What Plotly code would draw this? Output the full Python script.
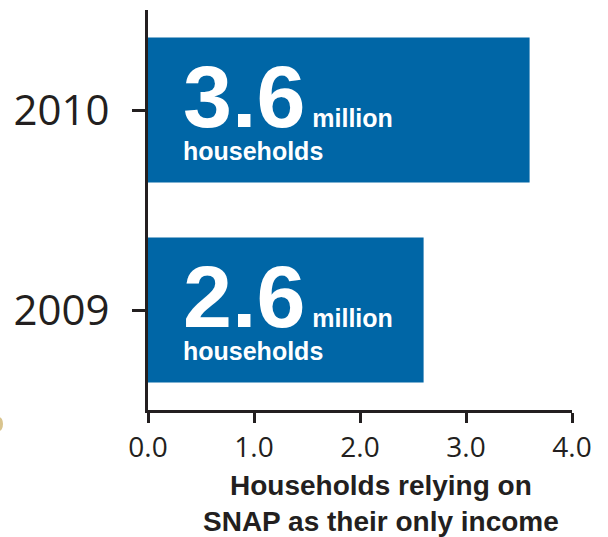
import plotly.graph_objects as go

# Households relying on SNAP as their only income (millions)
years = ["2009", "2010"]
households_millions = [2.6, 3.6]
x_ticks = [0, 1, 2, 3, 4]
x_tick_labels = ["0.0", "1.0", "2.0", "3.0", "4.0"]

BAR_BLUE = "#0066a6"
INK = "#231f20"

fig = go.Figure(
    go.Bar(
        y=years,
        x=households_millions,
        orientation="h",
        marker=dict(color=BAR_BLUE, line=dict(width=0)),
        width=0.725,
        hoverinfo="skip",
    )
)

# Value callouts inside each bar (category axis: position by index)
for idx, v in enumerate(households_millions):
    fig.add_annotation(
        x=0, y=idx, xref="x", yref="y",
        text=(f"<span style='font-size:88px'><b>{v:.1f}</b></span>"
              "<b> million</b><br><b>households</b>"),
        showarrow=False, align="left",
        xanchor="left", yanchor="middle",
        xshift=33, yshift=4,
        font=dict(family="Liberation Sans", size=25, color="white"),
    )

# Axis caption
fig.add_annotation(
    x=0.5, y=0, xref="paper", yref="paper",
    text="<b>Households relying on<br>SNAP as their only income</b>",
    showarrow=False, xanchor="center", yanchor="top",
    xshift=21, yshift=-58,
    font=dict(family="Liberation Sans", size=28, color=INK),
)

# Small decorative dot at the lower-left edge
fig.add_shape(
    type="circle", xref="paper", yref="paper",
    x0=-0.36, x1=-0.342, y0=-0.0525, y1=-0.0175,
    fillcolor="#d9c48e", line=dict(width=0), layer="above",
)

fig.update_layout(
    width=608, height=537,
    margin=dict(l=148, r=36, t=10, b=127),
    paper_bgcolor="white", plot_bgcolor="white",
    showlegend=False,
    xaxis=dict(
        range=[0, 4], tickvals=x_ticks, ticktext=x_tick_labels,
        showgrid=False, zeroline=False,
        showline=True, linecolor=INK, linewidth=3,
        ticks="outside", ticklen=10, tickwidth=3, tickcolor=INK,
        tickfont=dict(family="Open Sans", size=28, color=INK),
        fixedrange=True,
    ),
    yaxis=dict(
        type="category",
        categoryorder="array", categoryarray=years,
        range=[-0.5, 1.5],
        showgrid=False, zeroline=False,
        showline=True, linecolor=INK, linewidth=3,
        ticks="outside", ticklen=13, tickwidth=3, tickcolor=INK,
        tickfont=dict(family="Open Sans", size=42, color=INK),
        ticklabelstandoff=14,
        fixedrange=True,
    ),
)

fig.write_html("out.html")
